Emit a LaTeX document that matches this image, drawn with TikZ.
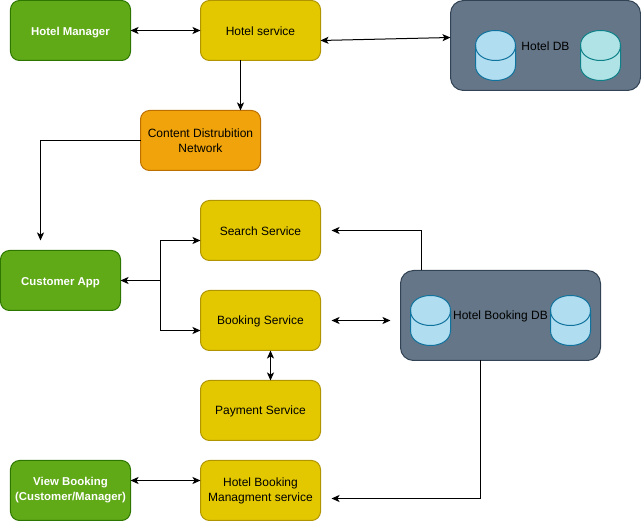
\documentclass[tikz,border=0pt]{standalone}
\usepackage{fontspec}
\setmainfont{Liberation Sans}
\usetikzlibrary{arrows.meta}
\definecolor{greenfill}{HTML}{60A917}
\definecolor{greenline}{HTML}{2D7600}
\definecolor{yellowfill}{HTML}{E3C800}
\definecolor{yellowline}{HTML}{B09500}
\definecolor{orangefill}{HTML}{F0A30A}
\definecolor{orangeline}{HTML}{BD7000}
\definecolor{slatefill}{HTML}{647687}
\definecolor{slateline}{HTML}{314354}
\definecolor{bluefill}{HTML}{B1DDF0}
\definecolor{blueline}{HTML}{10739E}
\definecolor{tealfill}{HTML}{B0E3E6}
\definecolor{tealline}{HTML}{0E8088}
\begin{document}
\begin{tikzpicture}[>={Stealth[length=8pt, width=7pt, inset=2pt]}, x=1pt, y=-1pt, line width=1pt,
    box/.style={draw, rounded corners=9pt, minimum width=120pt, minimum height=60pt, outer sep=0pt, inner sep=1pt, align=center, font=\fontsize{12}{15}\selectfont, execute at begin node={\rule{0pt}{11pt}}},
    twoline/.style={execute at begin node={\rule{0pt}{13pt}}},
    greenbox/.style={box, twoline, fill=greenfill, draw=greenline, text=white, font=\fontsize{11.4}{15}\selectfont\bfseries},
    yellowbox/.style={box, fill=yellowfill, draw=yellowline, text=black},
    orangebox/.style={box, fill=orangefill, draw=orangeline, text=black},
    dbbox/.style={box, fill=slatefill, draw=slateline, rounded corners=13pt, minimum height=90pt, text=black},
    disk/.pic={
        \path[pic actions] (-20,-10) .. controls (-20,-30) and (20,-30) .. (20,-10) -- (20,10) .. controls (20,30) and (-20,30) .. (-20,10) -- cycle;
        \path[pic actions, fill=none] (-20,-10) .. controls (-20,10) and (20,10) .. (20,-10);
    },
    bluedisk/.style={fill=bluefill, draw=blueline},
    tealdisk/.style={fill=tealfill, draw=tealline}]

            \useasboundingbox (-0.5,-0.5) rectangle (640.5,520.5);

            % Nodes
            \node[greenbox] (manager) at (70,30) {Hotel Manager};
            \node[yellowbox] (hotel) at (260,30) {Hotel service};
            \node[dbbox, minimum width=190pt] (hoteldb) at (545,45) {Hotel DB};
            \pic[bluedisk] (disk1) at (495,55) {disk};
            \pic[tealdisk] (disk2) at (600,55) {disk};
            \node[orangebox, twoline] (cdn) at (200,140) {Content Distrubition\\Network};
            \node[greenbox] (customer) at (60,280) {Customer App};
            \node[yellowbox] (search) at (260,230) {Search Service};
            \node[yellowbox] (booking) at (260,320) {Booking Service};
            \node[yellowbox] (payment) at (260,410) {Payment Service};
            \node[dbbox, minimum width=200pt] (bookingdb) at (500,315) {Hotel Booking DB};
            \pic[bluedisk] (disk3) at (430,320) {disk};
            \pic[bluedisk] (disk4) at (570,320) {disk};
            \node[greenbox] (view) at (70,490) {View Booking\\(Customer/Manager)};
            \node[yellowbox, twoline] (manage) at (260,490) {Hotel Booking\\Managment service};

            % Free ends and bends
            \coordinate (c1) at (40,140);
            \coordinate (c2) at (40,240);
            \coordinate (c3) at (160,280);
            \coordinate (c4) at (421,230);
            \coordinate (c5) at (331,230);
            \coordinate (c6) at (331,320);
            \coordinate (c7) at (390,320);
            \coordinate (c8) at (480,498);
            \coordinate (c9) at (331,498);

            % Connectors
            \draw[<->] (manager) -- (hotel);
            \draw[<->] ([yshift=-10pt]hotel.east) -- ([yshift=8pt]hoteldb.west);
            \draw[->] ([xshift=-20pt]hotel.south) -- ([xshift=40pt]cdn.north);
            \draw[->] (cdn.west) -- (c1) -- (c2);
            \draw[->] (c3) -- (customer);
            \draw[->] (c3) |- ([yshift=-10pt]search.west);
            \draw[->] (c3) |- ([yshift=-10pt]booking.west);
            \draw[->] (c4 |- bookingdb.north) -- (c4) -- (c5);
            \draw[<->] (c6) -- (c7);
            \draw[<->] ([xshift=10pt]booking.south) -- ([xshift=10pt]payment.north);
            \draw[->] (c8 |- bookingdb.south) -- (c8) -- (c9);
            \draw[<->] ([yshift=10pt]view.east) -- ([yshift=10pt]manage.west);

          \end{tikzpicture}
\end{document}
